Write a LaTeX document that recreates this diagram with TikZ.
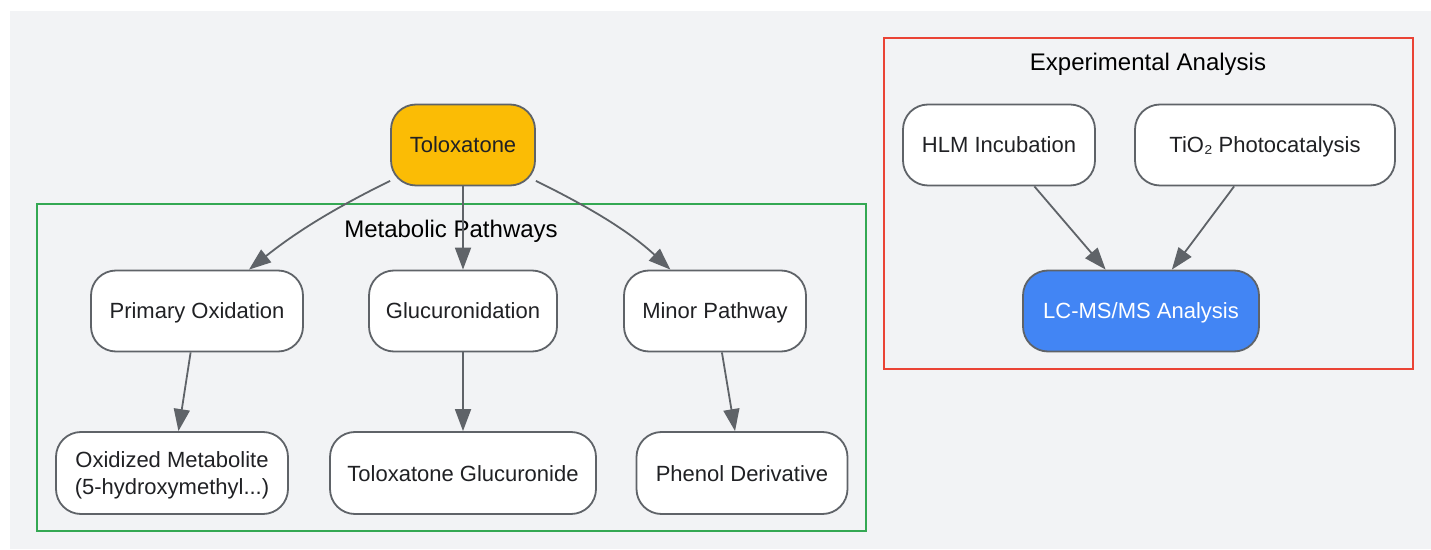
\documentclass[tikz,border=0pt]{standalone}
\usepackage{fontspec}
\setmainfont{Liberation Sans}
\usepackage{tikz}
\usetikzlibrary{positioning,calc,shapes.geometric,arrows.meta}
\definecolor{panelgray}{HTML}{F2F3F5}
\definecolor{edgegray}{HTML}{5F6368}
\definecolor{inkgray}{HTML}{202124}
\definecolor{googleyellow}{HTML}{FBBC05}
\definecolor{googleblue}{HTML}{4285F4}
\definecolor{googlegreen}{HTML}{34A853}
\definecolor{googlered}{HTML}{EA4335}

\tikzset{
	stepbox/.style={rectangle,draw=edgegray,line width=1.8pt,fill=white,rounded corners=25pt,
		minimum height=81pt,inner xsep=16pt,inner ysep=0pt,align=center,text=inkgray,
		text height=21pt,text depth=5pt,
		font=\fontsize{22}{26.5}\selectfont},
	flow/.style={edgegray,line width=1.8pt,-{Triangle[length=22pt,width=16pt]}},
	groupbox/.style={line width=1.8pt},
	grouptitle/.style={font=\fontsize{24}{28}\selectfont,text=black}
}

\begin{document}
\begin{tikzpicture}[x=1pt,y=1pt]
	\useasboundingbox (0,0) rectangle (1431,549);
	\fill[panelgray] (10,0) rectangle (1431,538);
	
	\draw[groupbox,draw=googlegreen] (37,18) rectangle (866,345);
	\draw[groupbox,draw=googlered] (884,180) rectangle (1413,511);
	
	\node[stepbox,fill=googleyellow,minimum width=144pt] (T) at (463,404) {Toloxatone};
	
	\node[stepbox,minimum width=212pt] (P) at (197,238) {Primary Oxidation};
	\node[stepbox,minimum width=188pt] (G) at (463,238) {Glucuronidation};
	\node[stepbox,minimum width=182pt] (M) at (715,238) {Minor Pathway};
	
	\node[stepbox,minimum height=82pt,minimum width=232pt,text height=47.5pt] (PO) at (172,76) {Oxidized Metabolite\\(5-hydroxymethyl...)};
	\node[stepbox,minimum height=82pt,minimum width=266pt] (GO) at (463,76) {Toloxatone Glucuronide};
	\node[stepbox,minimum height=82pt,minimum width=211pt] (MO) at (742,76) {Phenol Derivative};
	
	\node[stepbox,minimum width=192pt] (H) at (999,404) {HLM Incubation};
	\node[stepbox,minimum width=260pt] (Ti) at (1265,404) {TiO₂ Photocatalysis};
	\node[stepbox,fill=googleblue,text=white,minimum width=236pt] (L) at (1141,238) {LC-MS/MS Analysis};
	
	\node[grouptitle] (Metab) at (451,318) {Metabolic Pathways};
	\node[grouptitle] (Exper) at (1148,485) {Experimental Analysis};
	
	\draw[flow] (T) .. controls (331,339) and (295,316) .. (P);
	\draw[flow] (T) -- (G);
	\draw[flow] (T) .. controls (595,339) and (631,316) .. (M);
	
	\draw[flow] (P) -- (PO);
	\draw[flow] (G) -- (GO);
	\draw[flow] (M) -- (MO);
	
	\draw[flow] (H) -- (L);
	\draw[flow] (Ti) -- (L);
	
\end{tikzpicture}
\end{document}
